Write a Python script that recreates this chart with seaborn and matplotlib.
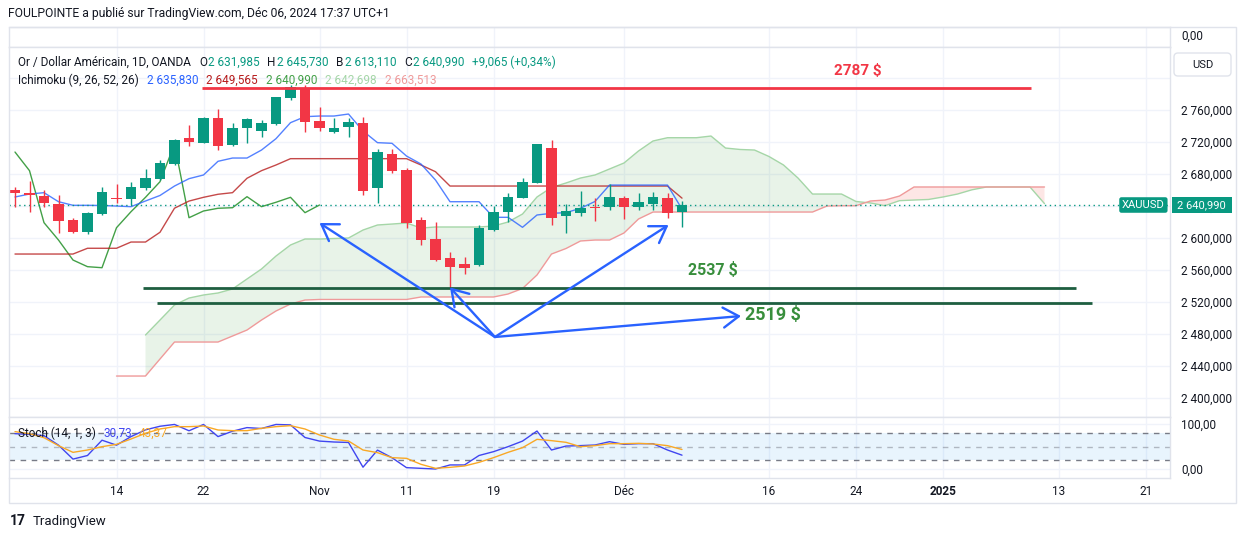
import numpy as np
import pandas as pd
import matplotlib
matplotlib.use("Agg")
import matplotlib.pyplot as plt
import matplotlib.transforms as mtransforms
from matplotlib.patches import Rectangle, FancyBboxPatch
import seaborn as sns

# --- DONNEES (XAUUSD 1D, 03/10 -> 06/12/2024) ---
opens = [2659.7, 2656.4, 2652.2, 2642.2, 2622.2, 2607.6, 2629.4, 2649.7, 2648.9, 2661.9,
         2673.5, 2692.6, 2724.4, 2718.9, 2749.4, 2716.0, 2736.9, 2733.5, 2741.9, 2774.4,
         2787.6, 2746.0, 2731.9, 2738.1, 2743.1, 2662.6, 2704.7, 2684.7, 2622.2, 2598.1,
         2574.4, 2567.2, 2566.0, 2609.7, 2632.6, 2650.1, 2668.9, 2711.9, 2627.6, 2631.4,
         2638.9, 2638.9, 2649.4, 2638.1, 2642.2, 2649.4, 2631.985]
highs = [2663.9, 2671.0, 2659.7, 2653.5, 2624.4, 2632.6, 2663.1, 2667.2, 2669.4, 2686.0,
         2697.2, 2723.9, 2741.0, 2751.0, 2760.6, 2743.1, 2749.5, 2747.2, 2776.0, 2791.0,
         2791.0, 2763.1, 2749.4, 2750.1, 2751.4, 2710.6, 2710.6, 2686.9, 2626.4, 2619.4,
         2582.6, 2576.4, 2616.0, 2639.7, 2655.6, 2675.1, 2717.2, 2722.2, 2642.2, 2658.5,
         2649.4, 2666.9, 2652.2, 2656.4, 2657.2, 2655.6, 2645.73]
lows = [2638.5, 2632.6, 2638.9, 2606.4, 2606.4, 2604.7, 2628.5, 2643.1, 2641.0, 2659.7,
        2672.0, 2691.5, 2714.7, 2718.5, 2709.7, 2715.0, 2718.1, 2726.4, 2741.0, 2772.2,
        2732.6, 2733.5, 2731.0, 2726.4, 2653.5, 2643.9, 2681.4, 2611.9, 2591.0, 2571.0,
        2538.9, 2554.7, 2564.5, 2609.0, 2620.1, 2649.5, 2668.0, 2616.0, 2606.4, 2627.2,
        2621.4, 2634.7, 2623.1, 2634.7, 2634.7, 2624.4, 2613.11]
closes = [2656.4, 2653.9, 2643.1, 2621.4, 2607.6, 2630.6, 2656.9, 2648.5, 2663.1, 2674.4,
          2693.1, 2722.2, 2720.1, 2750.1, 2714.7, 2737.6, 2748.5, 2743.1, 2775.6, 2788.9,
          2744.4, 2736.9, 2737.6, 2744.4, 2658.9, 2707.2, 2683.9, 2618.9, 2597.2, 2572.2,
          2563.9, 2562.6, 2612.6, 2632.6, 2650.6, 2670.1, 2717.2, 2625.1, 2633.5, 2636.9,
          2637.6, 2651.4, 2638.9, 2644.4, 2650.6, 2631.4, 2640.99]

tenkan = [2651.0, 2654.7, 2656.4, 2645.1, 2640.6, 2640.6, 2640.4, 2639.7, 2638.9, 2646.0,
          2652.9, 2664.7, 2673.9, 2678.5, 2695.6, 2699.7, 2699.7, 2709.7, 2723.9, 2743.9,
          2751.4, 2752.2, 2752.2, 2754.7, 2733.5, 2718.9, 2718.1, 2702.2, 2692.2, 2672.2,
          2645.1, 2645.1, 2645.1, 2625.6, 2625.6, 2613.1, 2628.5, 2630.6, 2631.4, 2636.9,
          2645.4, 2665.9, 2665.9, 2665.9, 2665.9, 2665.9, 2635.83]
kijun = [2579.7, 2579.7, 2579.7, 2579.7, 2579.7, 2586.9, 2586.9, 2586.9, 2594.7, 2594.7,
         2606.9, 2637.0, 2645.9, 2650.6, 2654.4, 2656.4, 2674.4, 2683.9, 2691.0, 2698.9,
         2698.9, 2698.9, 2698.9, 2698.9, 2698.9, 2698.9, 2698.9, 2698.9, 2691.0, 2682.6,
         2664.7, 2664.7, 2664.7, 2664.7, 2664.7, 2664.7, 2664.7, 2664.7, 2664.7, 2664.7,
         2664.7, 2664.7, 2664.7, 2664.7, 2664.7, 2664.7, 2649.565]

# nuage (deja decale de 25 barres vers l'avant, barres 0 -> 71)
senkou_a = [np.nan] * 9 + [
    2478.5, 2497.2, 2516.0, 2524.7, 2528.5, 2531.0, 2536.0, 2548.5, 2561.0, 2577.2,
    2591.0, 2598.5, 2598.5, 2599.1, 2599.7, 2609.7, 2616.0, 2617.2, 2618.5, 2612.2,
    2613.5, 2613.5, 2613.5, 2613.5, 2614.7, 2619.7, 2629.7, 2651.0, 2662.9, 2668.5,
    2674.7, 2678.5, 2686.0, 2693.5, 2708.5, 2721.0, 2725.1, 2725.1, 2725.1, 2727.2,
    2712.2, 2710.4, 2709.7, 2701.6, 2691.0, 2674.7, 2654.7, 2654.7, 2654.7, 2645.4,
    2643.5, 2640.1, 2646.4, 2647.2, 2647.9, 2651.0, 2654.7, 2660.0, 2663.5, 2663.5,
    2663.5, 2663.5, 2642.7]
senkou_b = [np.nan] * 7 + [
    2427.2, 2427.2, 2427.2, 2448.5, 2469.7, 2469.7, 2469.7, 2469.7, 2477.2, 2484.7,
    2497.2, 2508.5, 2517.2, 2522.2, 2522.9, 2522.9, 2522.9, 2522.9, 2522.9, 2522.9,
    2522.9, 2526.0, 2526.0, 2526.0, 2526.0, 2526.0, 2526.0, 2529.7, 2536.6, 2553.5,
    2579.7, 2586.6, 2596.0, 2597.2, 2597.2, 2606.0, 2623.5, 2632.2, 2632.2, 2632.2,
    2632.2, 2632.2, 2632.2, 2632.2, 2632.2, 2632.2, 2632.2, 2632.2, 2632.2, 2639.7,
    2640.1, 2640.1, 2646.0, 2647.2, 2652.2, 2663.5, 2663.5, 2663.5, 2663.5, 2663.5,
    2663.5, 2663.5, 2663.5, 2663.5, 2663.5]

stoch_k = [78.5, 77, 74, 53, 22, 30, 64, 53, 72, 87, 95, 99, 85, 99, 72, 84, 92, 90, 99, 98,
           70, 62, 60, 59, 4, 42, 25, 3, 1.5, 0, 9, 9, 30, 38.5, 49.6, 62, 84.4, 42.2, 51, 52,
           53.3, 60.7, 54.8, 56.3, 56.3, 42.2, 30.73]
stoch_d = [83, 78.5, 69.6, 51.9, 37, 42.2, 49.6, 54.8, 66.7, 79.3, 88.9, 94.1, 94.1, 95.6,
           86.7, 85.2, 85.2, 90.4, 94.1, 96.3, 88.9, 75.6, 66, 62.2, 42.2, 36.3, 25.2, 23.7,
           10.4, 1.5, 3.7, 6.7, 14.8, 25.2, 37, 47.4, 65.9, 63, 59.3, 49.6, 51.9, 56.3, 56.3,
           57, 55.6, 51.9, 43.37]

# niveaux traces a la main + fleches (barre, prix)
niveaux = {"2787 $": 2787, "2537 $": 2537, "2519 $": 2519}
fleche_origine = (33.1, 2476)
fleche_cibles = [(21.0, 2618.5), (45.07, 2616.0), (30.0, 2538.0), (50.07, 2502.2)]

tick_pos = [7, 13, 21, 27, 33, 42, 52, 58, 64, 72, 78]
tick_lab = ['14', '22', 'Nov', '11', '19', 'Déc', '16', '24', '2025', '13', '21']
prix_ticks = list(range(2400, 2801, 40))

# --- DATAFRAMES ---
df = pd.DataFrame({'barre': np.arange(len(closes)), 'open': opens, 'high': highs,
                   'low': lows, 'close': closes, 'tenkan': tenkan, 'kijun': kijun,
                   'k': stoch_k, 'd': stoch_d})
nuage = pd.DataFrame({'barre': np.arange(len(senkou_a)), 'a': senkou_a, 'b': senkou_b})
chikou = pd.DataFrame({'barre': df['barre'][25:] - 25, 'close': df['close'][25:]})

VERT, ROUGE = '#089981', '#F23645'
TXT = '#131722'
GRILLE = '#f0f3fa'
BORD = '#e0e3eb'
BLEU_K, ORANGE_D = '#4045f0', '#f9a825'

sns.set_theme(style="white")
plt.rcParams['font.family'] = ['Roboto', 'DejaVu Sans']

W, H = 1246, 539
fig = plt.figure(figsize=(W / 100, H / 100), dpi=100)
PX = mtransforms.Affine2D().scale(1 / W, -1 / H).translate(0, 1) + fig.transFigure
rendu = fig.canvas.get_renderer()


def zone(l, t, r, b):
    return [l / W, 1 - b / H, (r - l) / W, (b - t) / H]


def texte(x, y, s, color=TXT, **kw):
    kw.setdefault('fontsize', 8.5)
    kw.setdefault('va', 'center')
    return fig.text(x / W, 1 - y / H, s, color=color, **kw)


def chaine(x, y, morceaux):
    # morceaux : (texte, couleur, ecart apres en px)
    for s, col, ecart in morceaux:
        t = texte(x, y, s, color=col)
        x += t.get_window_extent(rendu).width + ecart


XMIN, XMAX = (9 - 15) / 14.5, (1170 - 15) / 14.5

ax_top = fig.add_axes(zone(9, 27, 1170, 47))
ax = fig.add_axes(zone(9, 47, 1170, 417))
ax_st = fig.add_axes(zone(9, 417, 1170, 478))

for a in (ax_top, ax, ax_st):
    a.set_xlim(XMIN, XMAX)
    a.set_xticks(tick_pos)
    a.grid(True, color=GRILLE, lw=1)
    a.set_axisbelow(True)
    for s in a.spines.values():
        s.set_color(BORD)
        s.set_linewidth(1)
    a.spines['left'].set_visible(False)
    a.yaxis.tick_right()
    a.tick_params(length=0, labelsize=8.5, labelcolor=TXT, pad=8)

# panneau vide du haut
ax_top.set_ylim(0, 1)
ax_top.set_yticks([0.6])
ax_top.set_yticklabels(['0,00'])
ax_top.grid(False, axis='y')
ax_top.set_xticklabels([])

# --- PANNEAU PRIX ---
ax.set_ylim(2375.99, 2838.49)
ax.set_yticks(prix_ticks)
ax.set_yticklabels([f"{v:,}".replace(',', ' ') + ',000' if v < 2800 else '' for v in prix_ticks])
ax.set_xticklabels([])

a_v, b_v = nuage['a'].to_numpy(), nuage['b'].to_numpy()
ax.fill_between(nuage['barre'], a_v, b_v, where=a_v >= b_v, interpolate=True,
                color='#43a047', alpha=0.12, lw=0)
ax.fill_between(nuage['barre'], a_v, b_v, where=a_v < b_v, interpolate=True,
                color='#f44336', alpha=0.13, lw=0)
sns.lineplot(data=nuage, x='barre', y='a', ax=ax, color='#A5D6A7', lw=1)
sns.lineplot(data=nuage, x='barre', y='b', ax=ax, color='#EF9A9A', lw=1)
sns.lineplot(data=chikou, x='barre', y='close', ax=ax, color='#43A047', lw=1)
sns.lineplot(data=df, x='barre', y='kijun', ax=ax, color='#B71C1C', lw=1, alpha=0.8)
sns.lineplot(data=df, x='barre', y='tenkan', ax=ax, color='#2962FF', lw=1, alpha=0.8)

ax.axhline(closes[-1], color=VERT, lw=1, ls=(0, (1, 2.5)))

couleurs = np.where(df['close'] >= df['open'], VERT, ROUGE)
ax.vlines(df['barre'], df['low'], df['high'], colors=couleurs, lw=1, zorder=4)
corps = (df['close'] - df['open']).abs().clip(lower=0.9)
ax.bar(df['barre'], corps, bottom=df[['open', 'close']].min(axis=1), width=0.72,
       color=couleurs, lw=0, zorder=5)
ax.set_xlabel('')
ax.set_ylabel('')

# niveaux et fleches
ax.hlines(niveaux["2787 $"], 12.9, 70.1, color=ROUGE, lw=2, zorder=6)
ax.hlines(niveaux["2537 $"], 8.83, 73.2, color='#1e5e40', lw=2, zorder=6)
ax.hlines(niveaux["2519 $"], 9.8, 74.3, color='#1e5e40', lw=2, zorder=6)
ax.text(58.1, 2808.5, "2787 $", color=ROUGE, fontsize=11, fontweight='bold', ha='center', va='center')
ax.text(48.1, 2559.7, "2537 $", color='#388E3C', fontsize=11.5, fontweight='bold', ha='center', va='center')
ax.text(52.3, 2503.5, "2519 $", color='#388E3C', fontsize=13, fontweight='bold', ha='center', va='center')
for cible in fleche_cibles:
    ax.annotate('', xy=cible, xytext=fleche_origine,
                arrowprops=dict(arrowstyle='->,head_length=0.7,head_width=0.45', color='#2962FF',
                                lw=1.7, shrinkA=0, shrinkB=0, mutation_scale=16), zorder=7)

# etiquette du dernier prix, dans le panneau (symbole) et sur l'echelle (valeur)
ax.text(0.9955, closes[-1], 'XAUUSD', transform=ax.get_yaxis_transform(), ha='right', va='center',
        color='white', fontsize=8, zorder=11,
        bbox=dict(boxstyle='round,pad=0.25,rounding_size=0.2', fc=VERT, ec='none'))
fig.patches.append(Rectangle((1172, 197), 60, 16, transform=PX, fc=VERT, ec='none', zorder=10))
texte(1177, 205, '2 640,990', color='white', fontsize=8, ha='left', zorder=11)

# --- PANNEAU STOCH ---
ax_st.set_ylim(-20, 115.56)
ax_st.axhspan(20, 80, color='#2196F3', alpha=0.1, lw=0)
for niv, al in ((80, 1), (50, 0.5), (20, 1)):
    ax_st.axhline(niv, color='#787B86', lw=1, ls=(0, (4, 4)), alpha=al)
sns.lineplot(data=df, x='barre', y='k', ax=ax_st, color=BLEU_K, lw=1)
sns.lineplot(data=df, x='barre', y='d', ax=ax_st, color=ORANGE_D, lw=1)
ax_st.set_yticks([0, 100])
ax_st.set_yticklabels(['0,00', '100,00'])
ax_st.set_xticklabels(tick_lab)
ax_st.tick_params(axis='x', pad=5)
for lab in ax_st.get_xticklabels():
    if lab.get_text() == '2025':
        lab.set_fontweight('bold')
ax_st.set_xlabel('')
ax_st.set_ylabel('')

# --- CADRE, ETIQUETTES ---
fig.patches.append(Rectangle((9, 27), 1227, 476, transform=PX, fill=False, ec=BORD, lw=1))
fig.patches.append(FancyBboxPatch((1174, 53), 57, 23, boxstyle='round,pad=0,rounding_size=4',
                                  transform=PX, fc='white', ec=BORD, lw=1))
texte(1202.5, 65, 'USD', fontsize=8, ha='center')

texte(8, 13, 'FOULPOINTE a publié sur TradingView.com, Déc 06, 2024 17:37 UTC+1', fontsize=8.7)

chaine(18, 62, [('Or / Dollar Américain, 1D, OANDA', TXT, 8),
                ('O', TXT, 1), ('2 631,985', VERT, 8),
                ('H', TXT, 1), ('2 645,730', VERT, 8),
                ('B', TXT, 1), ('2 613,110', VERT, 8),
                ('C', TXT, 1), ('2 640,990', VERT, 8),
                ('+9,065 (+0,34%)', VERT, 0)])
chaine(18, 80, [('Ichimoku (9, 26, 52, 26)', TXT, 8),
                ('2 635,830', '#2962FF', 8), ('2 649,565', '#B71C1C', 8),
                ('2 640,990', '#43A047', 8), ('2 642,698', '#A5D6A7', 8),
                ('2 663,513', '#EF9A9A', 0)])
chaine(18, 433, [('Stoch (14, 1, 3)', TXT, 8), ('30,73', BLEU_K, 6), ('43,37', ORANGE_D, 0)])

texte(10, 521, '17', fontsize=10, fontweight='bold')
texte(33, 521, 'TradingView', fontsize=9.5)

fig.savefig('out.png', dpi=100)
